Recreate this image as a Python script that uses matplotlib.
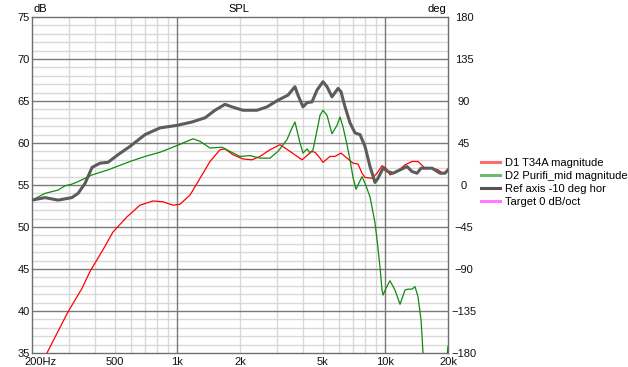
import matplotlib
matplotlib.use("Agg")
import matplotlib.pyplot as plt
import matplotlib.transforms as mtransforms
from matplotlib.lines import Line2D

plt.rcParams['font.family'] = ['Liberation Sans', 'DejaVu Sans']
plt.rcParams['font.size'] = 8

# --- data (Hz, dB) ---
ref_f = [200, 231, 267, 311, 333, 360, 389, 425, 464, 518, 592, 699, 825, 996, 1175,
         1358, 1517, 1694, 1831, 2067, 2414, 2696, 3046, 3402, 3675, 3800, 4018, 4200,
         4439, 4692, 5012, 5240, 5538, 5919, 6119, 6397, 6759, 7145, 7551, 7981, 8434,
         8914, 9217, 9740, 10290, 10880, 11760, 12700, 13430, 14190, 14840, 16760,
         18310, 19350, 20000]
ref_db = [53.2, 53.5, 53.2, 53.5, 54.0, 55.2, 57.1, 57.6, 57.7, 58.6, 59.6, 61.0, 61.8,
          62.1, 62.5, 63.0, 63.9, 64.6, 64.3, 63.9, 63.9, 64.3, 65.1, 65.7, 66.7, 65.7,
          64.3, 64.8, 64.9, 66.3, 67.3, 66.7, 65.5, 66.5, 66.1, 64.3, 62.4, 61.2, 61.0,
          59.6, 57.2, 55.3, 55.8, 57.0, 56.6, 56.4, 56.8, 57.2, 56.6, 56.4, 57.0, 57.0,
          56.4, 56.4, 56.8]

t34a_f = [200, 236, 298, 348, 380, 439, 490, 572, 661, 763, 853, 953, 1029, 1150, 1285,
          1435, 1603, 1694, 1851, 2067, 2284, 2496, 2788, 3114, 3478, 3973, 4246, 4400,
          4589, 4850, 5012, 5416, 5725, 6119, 6539, 6988, 7385, 7721, 7981, 8624, 9115,
          9634, 10070, 10520, 11370, 12430, 13430, 14350, 15510, 16940, 17910, 18920,
          20000]
t34a_db = [31.5, 35.0, 39.9, 42.7, 44.7, 47.3, 49.4, 51.2, 52.6, 53.1, 53.0, 52.6, 52.7,
           53.8, 55.8, 57.8, 59.2, 59.3, 58.6, 58.1, 58.0, 58.4, 59.2, 59.8, 59.0, 58.0,
           58.6, 59.0, 58.9, 58.2, 57.7, 58.4, 58.4, 58.8, 58.2, 57.6, 57.5, 56.4, 55.9,
           55.8, 56.4, 57.3, 57.0, 56.2, 56.6, 57.4, 57.8, 57.8, 57.0, 57.0, 56.8, 56.4,
           56.8]

purifi_f = [200, 231, 267, 288, 311, 333, 389, 464, 592, 699, 825, 996, 1189, 1285, 1435,
            1639, 1791, 2000, 2234, 2496, 2788, 3046, 3365, 3557, 3675, 3886, 4018, 4200,
            4342, 4488, 4692, 4850, 5012, 5240, 5538, 5853, 6052, 6257, 6539, 6759, 6988,
            7225, 7721, 7981, 8434, 8914, 9115, 9423, 9634, 9740, 10070, 10520, 11120,
            11760, 12430, 12850, 13430, 13880, 14350, 14840, 15170, 15600, 19000, 20000]
purifi_db = [53.2, 54.0, 54.4, 54.9, 55.1, 55.4, 56.2, 56.8, 57.8, 58.4, 58.9, 59.7, 60.5,
             60.2, 59.4, 59.5, 59.0, 58.4, 58.5, 58.2, 58.2, 59.0, 60.4, 61.8, 62.5, 60.0,
             58.8, 59.3, 58.8, 59.2, 61.5, 63.3, 63.9, 63.3, 61.1, 62.1, 63.1, 61.9, 59.8,
             58.0, 55.9, 54.5, 56.0, 55.2, 53.6, 50.5, 48.5, 45.2, 42.5, 41.9, 42.7, 43.6,
             42.5, 40.8, 42.5, 42.6, 42.6, 42.9, 41.7, 38.9, 35.0, 30.0, 30.0, 35.8]

legend_labels = ["D1 T34A magnitude", "D2 Purifi_mid magnitude",
                 "Ref axis -10 deg hor", "Target 0 dB/oct"]

x_ticks = [200, 500, 1000, 2000, 5000, 10000, 20000]
x_labels = ["200Hz", "500", "1k", "2k", "5k", "10k", "20k"]
db_ticks = [35, 40, 45, 50, 55, 60, 65, 70, 75]
deg_ticks = [-180, -135, -90, -45, 0, 45, 90, 135, 180]

fig = plt.figure(figsize=(6.28, 3.67), dpi=100)
ax = fig.add_axes([32 / 628, 1 - 353 / 367, 416 / 628, 336 / 367])

ax.set_xscale('log')
ax.set_xlim(200, 20000)
ax.set_ylim(35, 75)

# rutenett
minor_x = [300, 400, 500, 600, 700, 800, 900, 2000, 3000, 4000, 5000, 6000, 7000, 8000, 9000]
for f in minor_x:
    ax.axvline(f, color='#d9d9d9', lw=1, zorder=0)
for f in [1000, 10000]:
    ax.axvline(f, color='#7a7a7a', lw=1, zorder=1)
for v in range(36, 75):
    if v % 5:
        ax.axhline(v, color='#d9d9d9', lw=1, zorder=0)
for v in range(40, 75, 5):
    ax.axhline(v, color='#7a7a7a', lw=1, zorder=1)

ax.plot(t34a_f, t34a_db, color='#ff0000', lw=0.9, zorder=3)
ax.plot(purifi_f, purifi_db, color='#118a11', lw=0.9, zorder=3)
ax.plot(ref_f, ref_db, color='#5c5c5c', lw=2.2, zorder=4, solid_joinstyle='round')

ax.set_xticks(x_ticks)
ax.set_xticklabels(x_labels)
ax.xaxis.set_minor_locator(plt.NullLocator())
ax.set_yticks(db_ticks)
ax.tick_params(axis='both', length=0, labelsize=8, colors='#111111')
ax.tick_params(axis='y', pad=1.5)
ax.tick_params(axis='x', pad=3)
lbl = ax.get_xticklabels()[0]
lbl.set_ha('left')
lbl.set_transform(lbl.get_transform() + mtransforms.ScaledTranslation(-8 / 100, 0, fig.dpi_scale_trans))

for sp in ax.spines.values():
    sp.set_color('#6e6e6e')
    sp.set_linewidth(1)

ax2 = ax.twinx()
ax2.set_ylim(-180, 180)
ax2.set_yticks(deg_ticks)
ax2.tick_params(axis='y', length=0, pad=11.5, labelsize=8, colors='#111111')
for t in ax2.get_yticklabels():
    t.set_ha('center')
for sp in ax2.spines.values():
    sp.set_visible(False)

# aksetitler
fig.text(34 / 628, 1 - 9 / 367, "dB", ha='left', va='center', fontsize=8)
fig.text(239 / 628, 1 - 9 / 367, "SPL", ha='center', va='center', fontsize=8)
fig.text(446 / 628, 1 - 9 / 367, "deg", ha='right', va='center', fontsize=8)

handles = [Line2D([], [], color='#ff6a6a', lw=2.2),
           Line2D([], [], color='#6fba6f', lw=2.2),
           Line2D([], [], color='#555555', lw=2.2),
           Line2D([], [], color='#ff78ff', lw=2.2)]
fig.legend(handles, legend_labels, loc='upper left',
           bbox_to_anchor=(481 / 628, 1 - 158 / 367), frameon=False, fontsize=8,
           handlelength=1.7, handletextpad=0.5, labelspacing=0.28,
           borderpad=0, borderaxespad=0)

fig.savefig("out.png", dpi=100)
